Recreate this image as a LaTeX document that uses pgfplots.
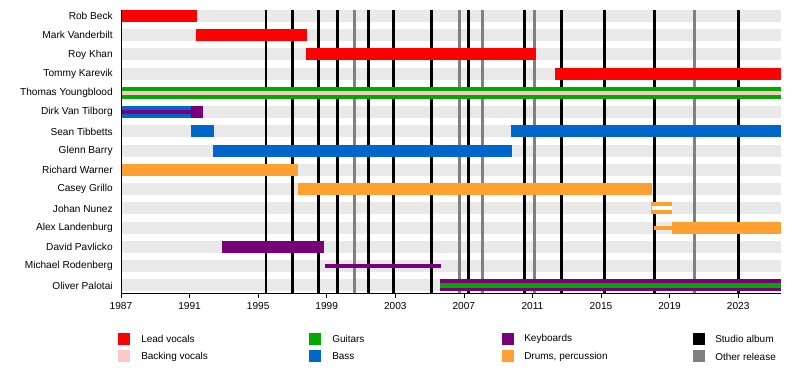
\documentclass[border=0pt]{standalone}
\usepackage{fontspec}
\setmainfont{Liberation Sans}
\usepackage{pgfplots}
\pgfplotsset{compat=1.18}
\definecolor{lead}{HTML}{FF0000}
\definecolor{backing}{HTML}{FFC8C8}
\definecolor{guitar}{HTML}{00AA00}
\definecolor{bass}{HTML}{0066CC}
\definecolor{keys}{HTML}{780078}
\definecolor{drums}{HTML}{FFA030}
\definecolor{other}{HTML}{808080}
\definecolor{bandbg}{HTML}{E9E9E9}
\begin{document}
\begin{tikzpicture}[x=0.75pt,y=0.75pt]
\useasboundingbox (0,0) rectangle (800,380);
\begin{axis}[
  at={(90.75pt,65.25pt)}, anchor=south west,
  scale only axis, width=495pt, height=212.25pt,
  xmin=1987, xmax=2025.5, ymin=0.61, ymax=15.31,
  axis on top,
  axis x line*=bottom, axis y line*=left,
  axis line style={black, line width=0.6pt},
  xtick={1987,1991,...,2023}, minor x tick num=3,
  tick align=outside, major tick length=3.5pt, minor tick length=2pt,
  tick style={black, line width=0.5pt},
  ytick={1,...,15},
  yticklabels={Oliver Palotai, Michael Rodenberg, David Pavlicko, Alex Landenburg, Johan Nunez, Casey Grillo, Richard Warner, Glenn Barry, Sean Tibbetts, Dirk Van Tilborg, Thomas Youngblood, Tommy Karevik, Roy Khan, Mark Vanderbilt, Rob Beck},
  y tick style={draw=none}, ymajorticks=true,
  y tick label style={font=\fontsize{7.6}{9}\selectfont, xshift=0.8pt},
  x tick label style={font=\fontsize{7.6}{9}\selectfont},
  /pgf/number format/assume math mode=true,
  /pgf/number format/1000 sep={},
]
% background bands
\pgfplotsinvokeforeach{1,...,15}{
  \addplot[bandbg, line width=9pt, forget plot] coordinates {(1987,#1) (2025.5,#1)};
}
% studio albums
\pgfplotsinvokeforeach{1995.46,1996.99,1998.51,1999.62,2001.43,2002.89,2005.12,2007.26,2010.53,2012.69,2015.2,2018.11,2023.02}{
  \addplot[black, line width=2pt, forget plot] coordinates {(#1,0.61) (#1,15.31)};
}
% other releases
\pgfplotsinvokeforeach{2000.61,2006.74,2008.08,2011.11,2020.45}{
  \addplot[other, line width=2pt, forget plot] coordinates {(#1,0.61) (#1,15.31)};
}
% Rob Beck
\addplot[lead, line width=9pt] coordinates {(1987,15) (1991.41,15)};
% Mark Vanderbilt
\addplot[lead, line width=9pt] coordinates {(1991.37,14) (1997.83,14)};
% Roy Khan
\addplot[lead, line width=9pt] coordinates {(1997.8,13) (2011.19,13)};
% Tommy Karevik
\addplot[lead, line width=9pt] coordinates {(2012.32,12) (2025.5,12)};
% Thomas Youngblood
\addplot[guitar, line width=9pt] coordinates {(1987,11) (2025.5,11)};
\addplot[backing, line width=3pt] coordinates {(1987,11) (2025.5,11)};
% Dirk Van Tilborg
\addplot[bass, line width=9pt] coordinates {(1987,10) (1991.08,10)};
\addplot[keys, line width=3pt] coordinates {(1987,10) (1991.08,10)};
\addplot[keys, line width=9pt] coordinates {(1991.08,10) (1991.77,10)};
% Sean Tibbetts
\addplot[bass, line width=9pt] coordinates {(1991.08,9) (1992.42,9)};
\addplot[bass, line width=9pt] coordinates {(2009.75,9) (2025.5,9)};
% Glenn Barry
\addplot[bass, line width=9pt] coordinates {(1992.37,8) (2009.79,8)};
% Richard Warner
\addplot[drums, line width=9pt] coordinates {(1987,7) (1997.31,7)};
% Casey Grillo
\addplot[drums, line width=9pt] coordinates {(1997.31,6) (2017.96,6)};
% Johan Nunez
\addplot[drums, line width=9pt] coordinates {(2017.9,5) (2019.14,5)};
\addplot[white, line width=3pt] coordinates {(2018.0,5) (2019.14,5)};
% Alex Landenburg
\addplot[drums, line width=3pt] coordinates {(2018.09,4) (2019.12,4)};
\addplot[drums, line width=9pt] coordinates {(2019.12,4) (2025.5,4)};
% David Pavlicko
\addplot[keys, line width=9pt] coordinates {(1992.89,3) (1998.84,3)};
% Michael Rodenberg
\addplot[keys, line width=3pt] coordinates {(1998.9,2) (2005.67,2)};
% Oliver Palotai
\addplot[keys, line width=9pt] coordinates {(2005.61,1) (2025.5,1)};
\addplot[guitar, line width=3.3pt] coordinates {(2005.61,1) (2025.5,1)};
\end{axis}
% legend
\begin{scope}[every node/.style={anchor=west, inner sep=0pt, font=\fontsize{7.5}{9}\selectfont}]
\fill[lead]    (118,47) rectangle (130,35);
\fill[backing] (118,30) rectangle (130,18);
\node at (141,41) {Lead vocals};
\node at (141,23.5) {Backing vocals};
\fill[guitar]  (309,47) rectangle (321,35);
\fill[bass]    (309,30) rectangle (321,18);
\node at (332,41) {Guitars};
\node at (332,23.5) {Bass};
\fill[keys]    (502,47) rectangle (514,35);
\fill[drums]   (502,30) rectangle (514,18);
\node at (524,41) {Keyboards};
\node at (524,23.5) {Drums, percussion};
\fill[black]   (693,47) rectangle (705,35);
\fill[other]   (693,30) rectangle (705,18);
\node at (715,41) {Studio album};
\node at (715,23.5) {Other release};
\end{scope}
\end{tikzpicture}
\end{document}
